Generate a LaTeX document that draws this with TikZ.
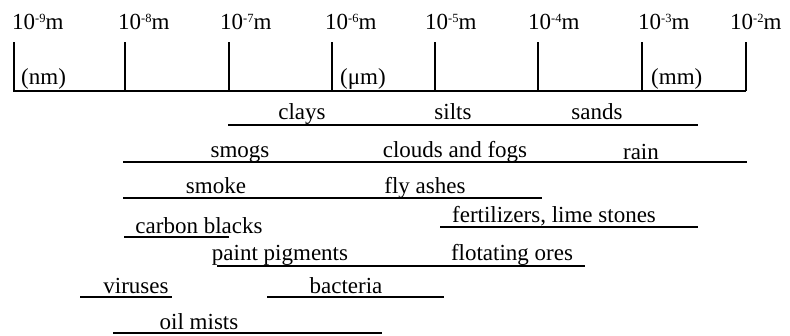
\documentclass[tikz,border=0pt]{standalone}
\usepackage{fontspec}
\setmainfont{Liberation Serif}
\newcommand{\myexp}[1]{\raisebox{6.5pt}{\fontsize{12.5}{13}\selectfont #1}}
\begin{document}
\begin{tikzpicture}[x=1pt,y=-1pt,
  lbl/.style={anchor=base,inner sep=0pt,font=\fontsize{23}{26}\selectfont},
  scalelbl/.style={anchor=base west,inner sep=0pt,font=\fontsize{23}{26}\selectfont},
  axisline/.style={line width=2.5pt},
  tickline/.style={line width=1.4pt},
  rangeline/.style={line width=2pt}]
\useasboundingbox (0,0) rectangle (790,335);
% axis
\coordinate (a0) at (13,91);
\coordinate (a1) at (746,91);
\draw[axisline] (a0) -- (a1);
% ticks
\foreach \i/\x in {1/14,2/125,3/229,4/332,5/435,6/538,7/642,8/746}{
  \coordinate (tb\i) at (\x,91);
  \coordinate (tt\i) at (\x,42);
  \draw[tickline] (tb\i) -- (tt\i);
}
% scale labels
\node[scalelbl] (s9) at (12,29) {10\myexp{-9}m};
\node[scalelbl] (s8) at (118,29) {10\myexp{-8}m};
\node[scalelbl] (s7) at (220,29) {10\myexp{-7}m};
\node[scalelbl] (s6) at (325,29) {10\myexp{-6}m};
\node[scalelbl] (s5) at (425,29) {10\myexp{-5}m};
\node[scalelbl] (s4) at (528,29) {10\myexp{-4}m};
\node[scalelbl] (s3) at (638,29) {10\myexp{-3}m};
\node[scalelbl] (s2) at (730,29) {10\myexp{-2}m};
\node[scalelbl] (unm) at (21,84) {(nm)};
\node[scalelbl] (uum) at (340,84) {(μm)};
\node[scalelbl] (umm) at (651,84) {(mm)};
% row 1
\coordinate (r1a) at (228,125); \coordinate (r1b) at (698,125);
\draw[rangeline] (r1a) -- (r1b);
\node[lbl] (clays) at (302,119) {clays};
\node[lbl] (silts) at (453,119) {silts};
\node[lbl] (sands) at (597,119) {sands};
% row 2
\coordinate (r2a) at (123,162); \coordinate (r2b) at (747,162);
\draw[rangeline] (r2a) -- (r2b);
\node[lbl] (smogs) at (240,157) {smogs};
\node[lbl] (clouds) at (455,157) {clouds and fogs};
\node[lbl] (rain) at (641,159) {rain};
% row 3
\coordinate (r3a) at (123,198); \coordinate (r3b) at (542,198);
\draw[rangeline] (r3a) -- (r3b);
\node[lbl] (smoke) at (216,193) {smoke};
\node[lbl] (fly) at (425,193) {fly ashes};
% fertilizers
\coordinate (r4a) at (440,227); \coordinate (r4b) at (698,227);
\draw[rangeline] (r4a) -- (r4b);
\node[lbl] (fert) at (554,222) {fertilizers, lime stones};
% carbon blacks
\coordinate (r5a) at (124,237); \coordinate (r5b) at (229,237);
\draw[rangeline] (r5a) -- (r5b);
\node[lbl] (carbon) at (199,233) {carbon blacks};
% paint pigments / flotating ores
\coordinate (r6a) at (217,266); \coordinate (r6b) at (585,266);
\draw[rangeline] (r6a) -- (r6b);
\node[lbl] (paint) at (280,260) {paint pigments};
\node[lbl] (ores) at (512,260) {flotating ores};
% viruses, bacteria
\coordinate (r7a) at (80,297); \coordinate (r7b) at (172,297);
\draw[rangeline] (r7a) -- (r7b);
\node[lbl] (vir) at (136,293) {viruses};
\coordinate (r8a) at (267,297); \coordinate (r8b) at (444,297);
\draw[rangeline] (r8a) -- (r8b);
\node[lbl] (bact) at (346,293) {bacteria};
% oil mists
\coordinate (r9a) at (113,333); \coordinate (r9b) at (382,333);
\draw[rangeline] (r9a) -- (r9b);
\node[lbl] (oil) at (199,329) {oil mists};
\end{tikzpicture}
\end{document}
